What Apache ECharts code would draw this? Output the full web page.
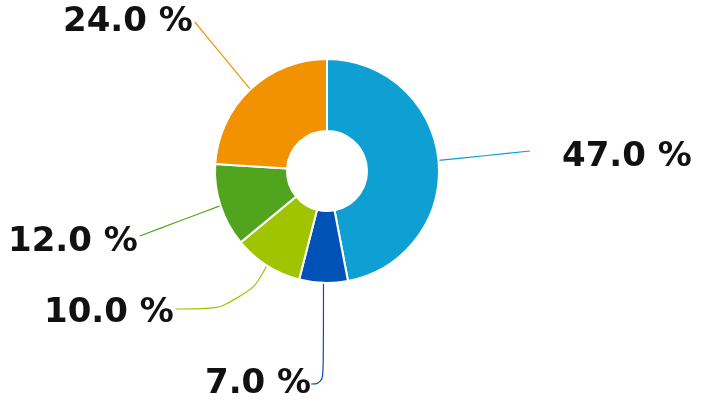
<!DOCTYPE html>
<html>
<head>
<meta charset="utf-8">
<script src="https://cdn.jsdelivr.net/npm/echarts@6/dist/echarts.min.js"></script>
<style>html,body{margin:0;padding:0;background:#fff}#c{width:701px;height:403px}</style>
</head>
<body>
<div id="c"></div>
<script>
var categories = ['A', 'B', 'C', 'D', 'E'];
var values = [47.0, 7.0, 10.0, 12.0, 24.0];
var colors = ['#0ea0d2', '#0052b6', '#a0c400', '#50a41e', '#f39200'];
// label placement (left x, middle y) and leader-line style per slice
var labelPos = [[562, 157], [205, 384], [44, 313], [8, 242], [63, 22]];
var lineEndSide = ['left', 'right', 'right', 'right', 'right'];
var lineEndGap = [32, 0, 2, 2, 2];
var lineEndDy = [-6, 0, -4, -6, 0];
var lineBend = ['mid', 'corner', 'corner', 'mid', 'mid'];
var lineBendDx = [0, 0, -24, 0, 0];

var chart = echarts.init(document.getElementById('c'));
chart.setOption({
  animation: false,
  series: [{
    type: 'pie',
    center: [327, 171],
    radius: [40, 112],
    startAngle: 90,
    clockwise: true,
    data: categories.map(function (c, i) {
      return { name: c, value: values[i], itemStyle: { color: colors[i] } };
    }),
    itemStyle: { borderColor: '#fff', borderWidth: 2 },
    label: {
      show: true,
      formatter: function (p) { return p.value.toFixed(1) + ' %'; },
      fontFamily: 'DejaVu Sans',
      fontWeight: 'bold',
      fontSize: 34,
      color: '#111'
    },
    labelLine: { show: true, length: 20, length2: 20, smooth: 0.5, lineStyle: { width: 1.2 } },
    labelLayout: function (p) {
      var i = p.dataIndex;
      var pos = labelPos[i];
      var w = p.labelRect.width;
      var p0 = p.labelLinePoints ? p.labelLinePoints[0] : [0, 0];
      var ey = pos[1] + lineEndDy[i];
      var ex = lineEndSide[i] === 'left' ? pos[0] - lineEndGap[i] : pos[0] + w + lineEndGap[i];
      var p1 = lineBend[i] === 'corner' ? [p0[0] + lineBendDx[i], ey] : [(p0[0] + ex) / 2, (p0[1] + ey) / 2];
      return {
        x: pos[0], y: pos[1], align: 'left', verticalAlign: 'middle',
        labelLinePoints: [[p0[0], p0[1]], p1, [ex, ey]]
      };
    }
  }]
});
</script>
</body>
</html>
